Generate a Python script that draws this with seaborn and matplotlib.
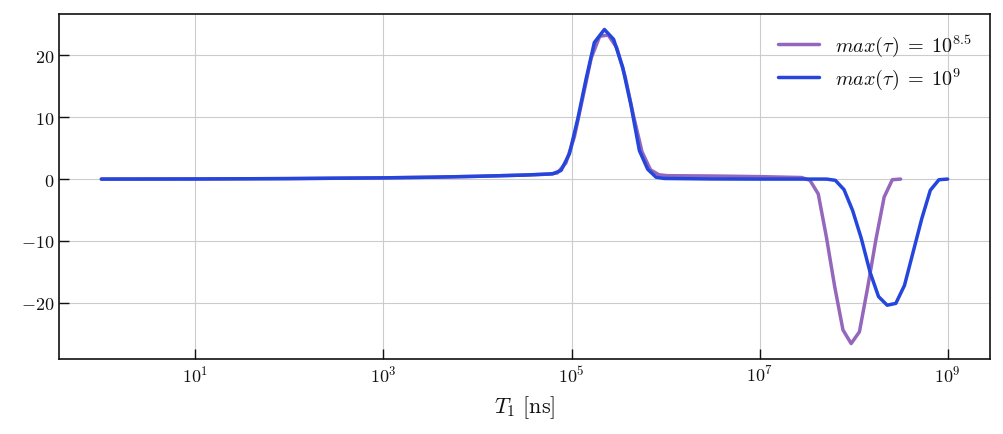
import numpy as np
import pandas as pd
import matplotlib
matplotlib.use("Agg")
import matplotlib.pyplot as plt
import seaborn as sns
from matplotlib.ticker import FixedLocator, NullLocator, LogFormatterSciNotation

# ---- data (log10 of T1 in ns, and values) ----
blue_logT = [0.0, 1.0, 2.0, 3.0, 3.5, 4.0, 4.5, 4.80,
             4.889, 4.978, 5.066, 5.155, 5.243, 5.35, 5.448, 5.544, 5.633, 5.722, 5.81, 5.899, 5.987,
             6.5, 7.0, 7.5, 7.714,
             7.806, 7.898, 7.990, 8.082, 8.174, 8.265, 8.357, 8.449, 8.541, 8.633, 8.725, 8.816, 8.908, 9.0]
blue_val = [0.0, 0.02, 0.08, 0.2, 0.3, 0.45, 0.65, 0.85,
            1.4, 4.1, 9.7, 16.2, 22.1, 24.2, 22.6, 18.1, 11.9, 4.6, 1.6, 0.3, 0.1,
            0.02, 0.0, 0.0, 0.0,
            -0.2, -1.7, -5.1, -9.6, -15.0, -19.0, -20.4, -20.1, -17.2, -11.8, -6.4, -1.8, -0.1, 0.0]

purple_logT = [0.0, 1.0, 2.0, 3.0, 3.5, 4.0, 4.5, 4.76,
               4.85, 4.94, 5.03, 5.12, 5.21, 5.30, 5.39, 5.48, 5.57, 5.66, 5.75, 5.84, 5.93, 6.02,
               6.5, 7.0, 7.449,
               7.536, 7.624, 7.711, 7.799, 7.887, 7.974, 8.062, 8.150, 8.237, 8.325, 8.412, 8.5]
purple_val = [0.0, 0.02, 0.08, 0.2, 0.3, 0.45, 0.65, 0.8,
              1.0, 2.6, 6.8, 13.2, 19.6, 23.1, 23.3, 21.3, 16.6, 10.2, 4.4, 1.5, 0.7, 0.55,
              0.5, 0.4, 0.25,
              -0.2, -2.4, -9.4, -17.4, -24.4, -26.6, -24.7, -17.5, -9.8, -2.9, -0.1, 0.0]

labels = [r"$max(\tau)\;=\;10^{8.5}$", r"$max(\tau)\;=\;10^{9}$"]
colors = ["#9467bd", "#2546dd"]
x_ticks = [1e1, 1e3, 1e5, 1e7, 1e9]
y_ticks = [-20, -10, 0, 10, 20]

df = pd.concat([
    pd.DataFrame({"T1": np.power(10.0, purple_logT), "val": purple_val, "series": labels[0]}),
    pd.DataFrame({"T1": np.power(10.0, blue_logT), "val": blue_val, "series": labels[1]}),
])

sns.set_style("ticks")
plt.rcParams.update({
    "font.family": "serif",
    "font.serif": ["cmr10", "DejaVu Serif"],
    "mathtext.fontset": "cm",
    "axes.formatter.use_mathtext": True,
    "axes.unicode_minus": True,
})

fig = plt.figure(figsize=(10.04, 4.35), dpi=100)
ax = fig.add_axes([0.0588, 0.1724, 0.9272, 0.7931])

sns.lineplot(data=df, x="T1", y="val", hue="series", palette=colors,
             hue_order=labels, linewidth=2.5, ax=ax, sort=False, estimator=None)

ax.set_xscale("log")
ax.xaxis.set_major_locator(FixedLocator(x_ticks))
ax.xaxis.set_major_formatter(LogFormatterSciNotation())
ax.xaxis.set_minor_locator(NullLocator())
ax.set_yticks(y_ticks)
ax.set_xlim(10 ** -0.45, 10 ** 9.45)
ax.set_ylim(-29.1, 26.7)

ax.grid(True, color="#cccccc", linewidth=0.8)
ax.set_axisbelow(True)
for s in ax.spines.values():
    s.set_linewidth(1.2)
    s.set_color("#111111")
ax.tick_params(direction="in", length=7, width=1.0, labelsize=13, top=False, right=False,
               color="#111111", labelcolor="#111111")
ax.set_xlabel(r"$T_1\ \mathrm{[ns]}$", fontsize=16, labelpad=6, color="#111111")
ax.set_ylabel("")

leg = ax.legend(loc="upper right", frameon=False, fontsize=14.5, handlelength=2.0,
                labelspacing=0.4, borderaxespad=0.5)
for t in leg.get_texts():
    t.set_color("#111111")
for line in leg.get_lines():
    line.set_linewidth(2.5)

fig.savefig("out.png", dpi=100)
